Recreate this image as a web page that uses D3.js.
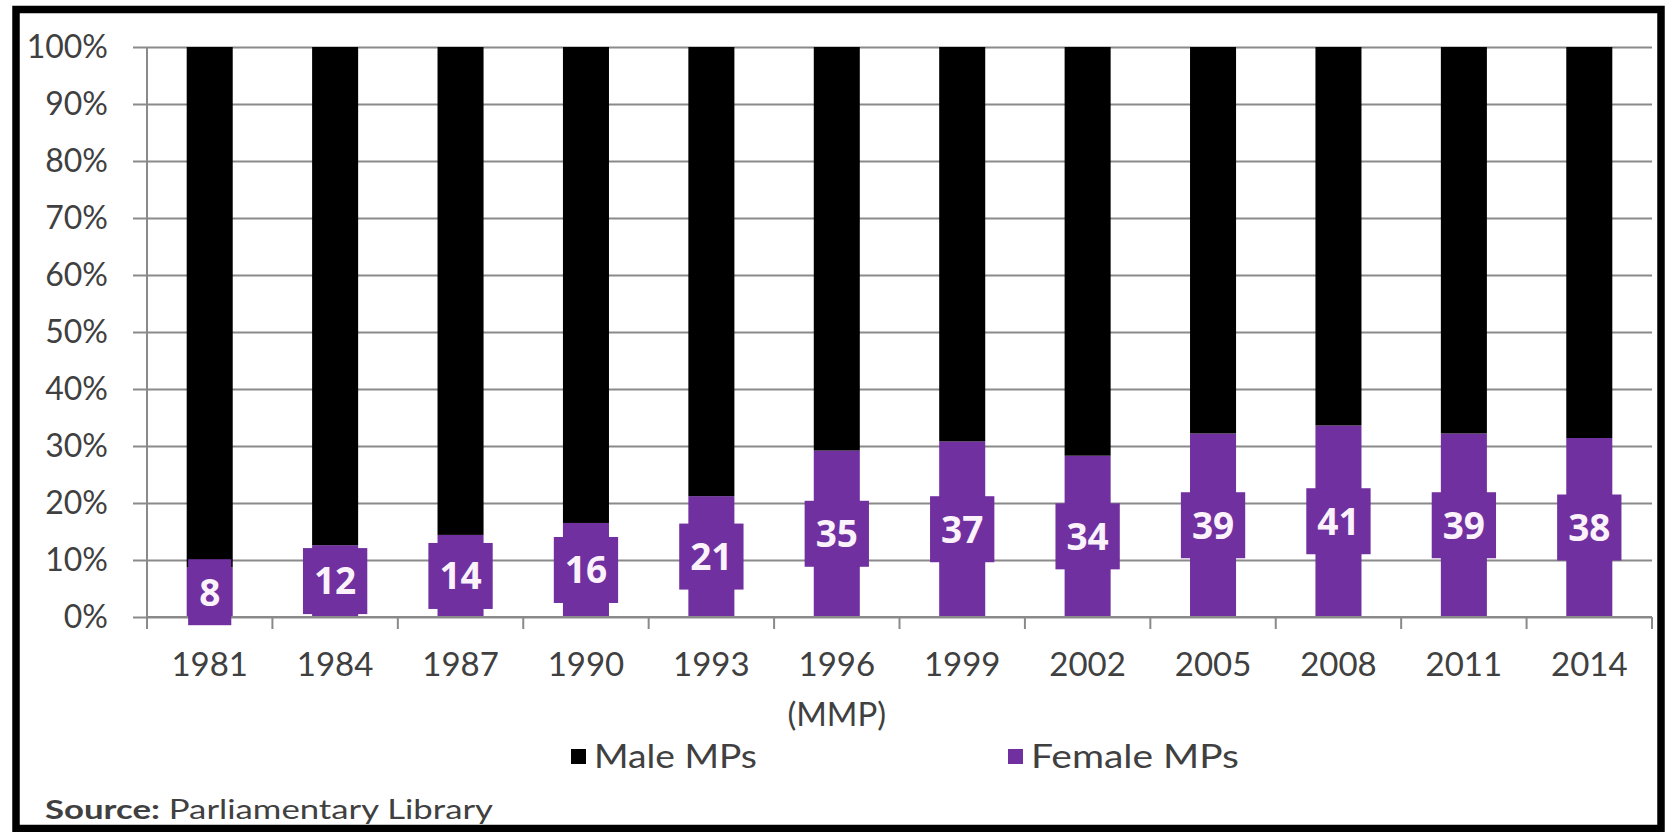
<!DOCTYPE html>
<html>
<head>
<meta charset="utf-8">
<script src="https://cdn.jsdelivr.net/npm/d3@7"></script>
<style>
  body { margin: 0; background: #fff; }
  svg { display: block; }
</style>
</head>
<body>
<svg id="chart"></svg>
<script>
// election years and women MPs (count shown on the bar, share of the House)
var years = ["1981", "1984", "1987", "1990", "1993", "1996", "1999", "2002", "2005", "2008", "2011", "2014"];
var femaleCount = [8, 12, 14, 16, 21, 35, 37, 34, 39, 41, 39, 38];
var femaleShare = [0.087, 0.126, 0.144, 0.165, 0.212, 0.292, 0.308, 0.283, 0.322, 0.336, 0.322, 0.314];
var maleShare = femaleShare.map(function (f) { return 1 - f; });
var yTicks = [0, 0.1, 0.2, 0.3, 0.4, 0.5, 0.6, 0.7, 0.8, 0.9, 1];
var seriesNames = ["Male MPs", "Female MPs"];
var seriesColors = ["#000000", "#7030a0"];

var W = 1669, H = 832;
var plotL = 147, plotR = 1652, plotT = 47, plotB = 617;

var svg = d3.select("#chart").attr("width", W).attr("height", H);

// frame
svg.append("rect")
  .attr("x", 16).attr("y", 9.5)
  .attr("width", 1645).attr("height", 819)
  .attr("fill", "#fff").attr("stroke", "#000").attr("stroke-width", 7.5);

var x = d3.scaleBand().domain(years).range([plotL, plotR])
  .paddingInner(0.633).paddingOuter(0.3165);
var y = d3.scaleLinear().domain([0, 1]).range([plotB, plotT]);

var font = "Lato, 'Open Sans', sans-serif";

// gridlines + y axis
var yAxis = d3.axisLeft(y).tickValues(yTicks).tickFormat(d3.format(".0%"))
  .tickSize(-(plotR - plotL)).tickPadding(26);
var yg = svg.append("g").attr("transform", "translate(" + plotL + ",0)").call(yAxis);
yg.select(".domain").remove();
yg.selectAll(".tick line").attr("x1", -14).attr("stroke", "#8a8a8a").attr("stroke-width", 2);
yg.selectAll(".tick text").attr("font-family", font).attr("font-size", 32)
  .attr("fill", "#404040").attr("dx", -13);
svg.append("line").attr("x1", plotL).attr("x2", plotL).attr("y1", plotT).attr("y2", plotB)
  .attr("stroke", "#8a8a8a").attr("stroke-width", 2);

// stacked bars
var stackData = years.map(function (yr, i) {
  return { year: yr, female: femaleShare[i], male: maleShare[i], count: femaleCount[i] };
});
var stack = d3.stack().keys(["female", "male"])(stackData);
var colorOf = { female: seriesColors[1], male: seriesColors[0] };

svg.append("g").selectAll("g").data(stack).join("g")
  .attr("fill", function (s) { return colorOf[s.key]; })
  .selectAll("rect").data(function (s) { return s; }).join("rect")
  .attr("x", function (d) { return x(d.data.year); })
  .attr("width", x.bandwidth())
  .attr("y", function (d) { return y(d[1]); })
  .attr("height", function (d) { return y(d[0]) - y(d[1]); });

// x axis with boundary ticks
var xg = svg.append("g").attr("transform", "translate(0," + plotB + ")");
xg.append("line").attr("x1", plotL).attr("x2", plotR)
  .attr("stroke", "#8a8a8a").attr("stroke-width", 2);
xg.selectAll(".bt").data(d3.range(years.length + 1)).join("line")
  .attr("class", "bt")
  .attr("x1", function (i) { return plotL + i * x.step(); })
  .attr("x2", function (i) { return plotL + i * x.step(); })
  .attr("y1", 0).attr("y2", 12)
  .attr("stroke", "#8a8a8a").attr("stroke-width", 2);
xg.selectAll(".yl").data(years).join("text")
  .attr("class", "yl")
  .attr("x", function (d) { return x(d) + x.bandwidth() / 2; })
  .attr("y", 59)
  .attr("text-anchor", "middle")
  .attr("font-family", font).attr("font-size", 33).attr("fill", "#404040")
  .text(function (d) { return d; });
xg.append("text")
  .attr("x", x("1996") + x.bandwidth() / 2).attr("y", 109)
  .attr("text-anchor", "middle")
  .attr("font-family", font).attr("font-size", 33).attr("fill", "#404040")
  .text("(MMP)");

// data labels: purple boxes centred in the female segment
var lab = svg.append("g").selectAll("g").data(stackData).join("g")
  .attr("transform", function (d) {
    return "translate(" + (x(d.year) + x.bandwidth() / 2) + "," + y(d.female / 2) + ")";
  });
lab.append("rect").attr("fill", seriesColors[1]);
lab.append("text")
  .attr("text-anchor", "middle").attr("dy", "0.36em")
  .attr("font-family", "'Open Sans', sans-serif").attr("font-weight", 700)
  .attr("font-size", 37).attr("fill", "#fbf2fb")
  .text(function (d) { return d.count; });
lab.each(function () {
  var g = d3.select(this);
  var tw = g.select("text").node().getComputedTextLength();
  g.select("rect").attr("x", -(tw + 22) / 2).attr("width", tw + 22)
    .attr("y", -33).attr("height", 66);
});

// legend
var legX = [571, 1008];
var legW = [163, 208];
var leg = svg.append("g").selectAll("g").data(seriesNames).join("g")
  .attr("transform", function (d, i) { return "translate(" + legX[i] + ",757)"; });
leg.append("rect").attr("x", 0).attr("y", -8).attr("width", 15).attr("height", 15)
  .attr("fill", function (d, i) { return seriesColors[i]; });
leg.append("text").attr("x", 23).attr("dy", "0.35em")
  .attr("font-family", font).attr("font-size", 32).attr("fill", "#404040")
  .attr("textLength", function (d, i) { return legW[i]; })
  .attr("lengthAdjust", "spacingAndGlyphs")
  .text(function (d) { return d; });

// source note
var src = svg.append("text").attr("x", 45).attr("y", 819)
  .attr("font-family", font).attr("font-size", 26).attr("fill", "#404040")
  .attr("textLength", 448).attr("lengthAdjust", "spacingAndGlyphs");
src.append("tspan").attr("font-weight", 700).text("Source:");
src.append("tspan").text(" Parliamentary Library");
</script>
</body>
</html>
